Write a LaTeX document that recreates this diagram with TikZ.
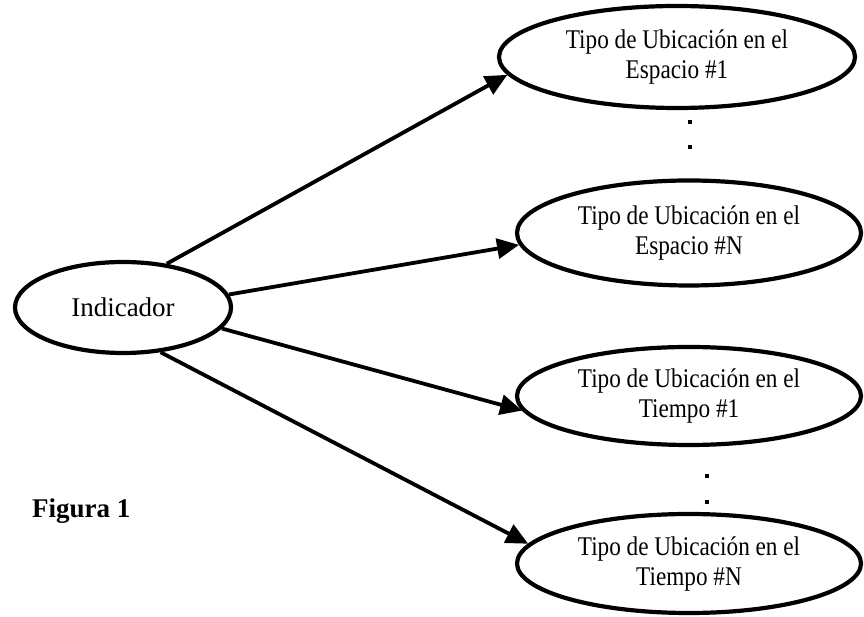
\documentclass[tikz,border=0pt]{standalone}
\usepackage{fontspec}
\setmainfont{Liberation Serif}
\newfontfamily\condserif[FakeStretch=0.86]{Liberation Serif}
\usetikzlibrary{shapes.geometric,arrows.meta}
\tikzset{
  oval/.style={ellipse, draw=black, line width=4.2pt, inner sep=0pt, align=center},
  ovaltext/.style={font=\condserif\fontsize{27}{30}\selectfont},
  conn/.style={line width=3.8pt, -{Triangle[length=22pt,width=20pt]}},
  dotmark/.style={rectangle, fill=black, inner sep=0pt, minimum size=4.2pt}
}
\begin{document}
\begin{tikzpicture}[x=1pt,y=1pt]
\useasboundingbox (0,0) rectangle (864,617);
\node[oval, minimum width=216pt, minimum height=91pt, font=\fontsize{27}{30}\selectfont] (ind) at (123,309.5) {Indicador};
\node[oval, ovaltext, minimum width=356pt, minimum height=102pt] (e1) at (677,560) {Tipo de Ubicación en el\\Espacio \#1};
\node[oval, ovaltext, minimum width=344pt, minimum height=105pt] (e2) at (689,384) {Tipo de Ubicación en el\\Espacio \#N};
\node[oval, ovaltext, minimum width=344pt, minimum height=98pt] (e3) at (689,221) {Tipo de Ubicación en el\\Tiempo \#1};
\node[oval, ovaltext, minimum width=344pt, minimum height=99pt] (e4) at (689,53.5) {Tipo de Ubicación en el\\Tiempo \#N};
\draw[conn] (ind.45.3) -- (e1.186.5);
\draw[conn] (ind.7.6) -- (e2.184.8);
\draw[conn] (ind.-12.4) -- (e3.185.6);
\draw[conn] (ind.-50.9) -- (e4.173.9);
\node[dotmark] (d1) at (690,495) {};
\node[dotmark] (d2) at (690,470) {};
\node[dotmark] (d3) at (707,141) {};
\node[dotmark] (d4) at (707,115) {};
\node[anchor=base west, inner sep=0pt, font=\bfseries\fontsize{27}{30}\selectfont] (fig) at (32,99) {Figura 1};
\end{tikzpicture}
\end{document}
